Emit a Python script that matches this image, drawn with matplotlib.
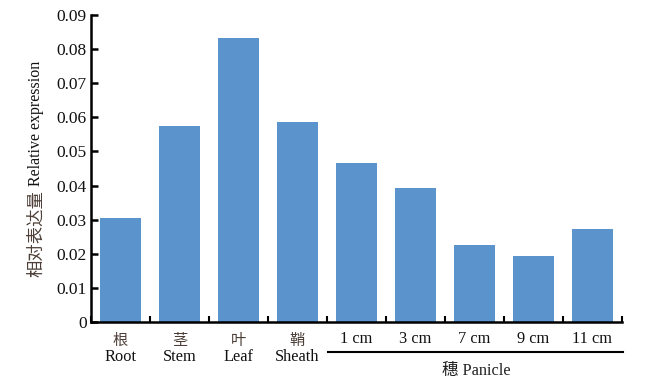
import numpy as np
import matplotlib
matplotlib.use("Agg")
import matplotlib.pyplot as plt
import matplotlib.transforms as mtransforms
from matplotlib.ticker import FixedLocator

plt.rcParams['font.family'] = ['Liberation Serif', 'Noto Sans CJK SC', 'DejaVu Sans']

# data
cn_labels = ['根', '茎', '叶', '鞘', '', '', '', '', '']
en_labels = ['Root', 'Stem', 'Leaf', 'Sheath', '1 cm', '3 cm', '7 cm', '9 cm', '11 cm']
values = [0.0305, 0.0575, 0.0833, 0.0587, 0.0466, 0.0392, 0.0225, 0.0194, 0.0273]
y_ticks = [0, 0.01, 0.02, 0.03, 0.04, 0.05, 0.06, 0.07, 0.08, 0.09]
y_ticklabels = ['0', '0.01', '0.02', '0.03', '0.04', '0.05', '0.06', '0.07', '0.08', '0.09']

bar_color = '#5B93CC'
cn_color = '#4d3f38'
cjk = ['Noto Sans CJK SC', 'DejaVu Sans']

fig = plt.figure(figsize=(6.65, 3.83), dpi=100)
ax = fig.add_axes([0.137, 0.159, 0.798, 0.802])

x = np.arange(len(values))
ax.bar(x, values, width=0.7, color=bar_color, zorder=2)

ax.set_xlim(-0.5, len(values) - 0.5)
ax.set_ylim(0, 0.09)
ax.set_yticks(y_ticks)
ax.set_yticklabels(y_ticklabels)

ax.spines['top'].set_visible(False)
ax.spines['right'].set_visible(False)
ax.spines['left'].set_linewidth(1.8)
ax.spines['bottom'].set_linewidth(1.8)

ax.tick_params(axis='y', direction='in', length=5, width=1.8, labelsize=12.5,
               pad=3, labelcolor='#111111')
ax.set_xticks(x)
ax.set_xticklabels([])
ax.tick_params(axis='x', which='major', length=0)
ax.xaxis.set_minor_locator(FixedLocator(np.arange(-0.5, len(values), 1.0)))
ax.tick_params(axis='x', which='minor', direction='in', length=4, width=1.5)

trans = mtransforms.blended_transform_factory(ax.transData, ax.transAxes)
for i in range(len(values)):
    if cn_labels[i]:
        ax.text(i, -0.033, cn_labels[i], transform=trans, ha='center', va='top',
                fontsize=11, color=cn_color, family=cjk)
        ax.text(i, -0.087, en_labels[i], transform=trans, ha='center', va='top',
                fontsize=11.8, color='#111111')
    else:
        ax.text(i, -0.03, en_labels[i], transform=trans, ha='center', va='top',
                fontsize=11.8, color='#111111')

# panicle group line and label
ax.plot([3.52, 8.52], [-0.098, -0.098], transform=trans, color='black',
        lw=1.5, clip_on=False)
ax.text(6.03, -0.132, '穗 Panicle', transform=trans, ha='center', va='top',
        fontsize=11.8, color='#222222')

# y label, two parts
fig.text(0.054, 1 - 277 / 383, '相对表达量', rotation=90, ha='center', va='bottom',
         fontsize=12.5, color=cn_color, family=cjk)
fig.text(0.054, 1 - 186 / 383, 'Relative expression', rotation=90, ha='center',
         va='bottom', fontsize=11.5, color='#111111')

fig.savefig('out.png', dpi=100)
